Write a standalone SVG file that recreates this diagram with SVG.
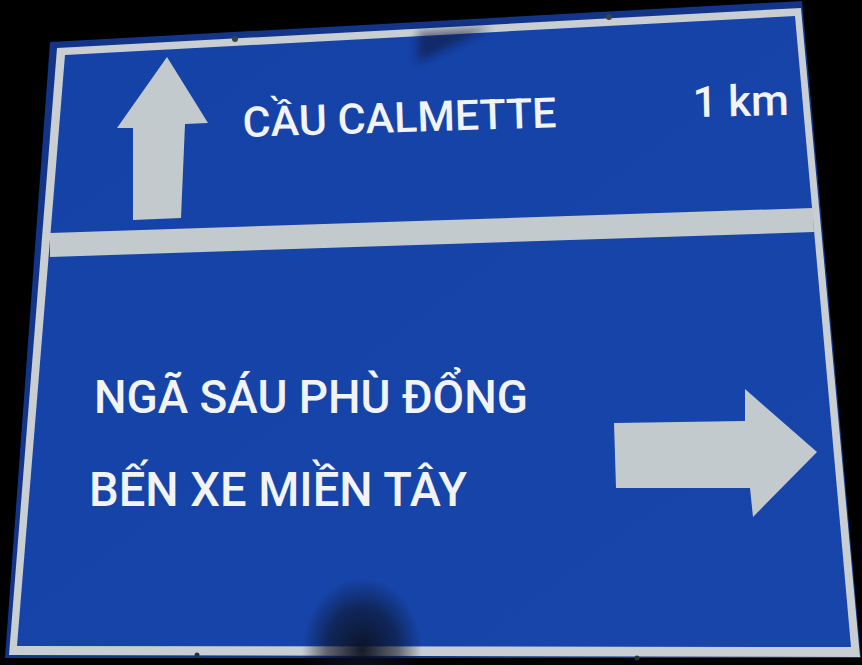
<svg xmlns="http://www.w3.org/2000/svg" width="862" height="665" viewBox="0 0 862 665">
  <defs>
    <style>
      .sign-text { font-family: Roboto, "DejaVu Sans", sans-serif; font-weight: 500; fill: #f2f3f5; }
      .grey { fill: #c3cacd; }
    </style>
    <linearGradient id="blueFill" x1="0" y1="0" x2="1" y2="1">
      <stop offset="0" stop-color="#1542a6"/>
      <stop offset="1" stop-color="#1745aa"/>
    </linearGradient>
    <radialGradient id="smudge" cx="0.5" cy="0.5" r="0.5">
      <stop offset="0" stop-color="#0b1020" stop-opacity="0.95"/>
      <stop offset="0.6" stop-color="#0b1020" stop-opacity="0.55"/>
      <stop offset="1" stop-color="#0b1020" stop-opacity="0"/>
    </radialGradient>
    <filter id="blur" x="-20%" y="-20%" width="140%" height="140%">
      <feGaussianBlur stdDeviation="4"/>
    </filter>
  </defs>

  <rect width="862" height="665" fill="#000000"/>

  <g id="sign-board">
    <polygon points="50,42 802,1 861,658 5,658" fill="#12358a"/>
    <polygon points="57,48 801,8 860,657 9,655" fill="#c8ced1"/>
    <polygon points="65,55 795,16 851,647 17,646" fill="url(#blueFill)"/>
    <polygon points="418,32 492,27 418,62" fill="#0a1638" opacity="0.55" filter="url(#blur)"/>
    <ellipse cx="362" cy="650" rx="60" ry="72" fill="url(#smudge)"/>
    <circle cx="235" cy="39" r="3" fill="#3a4250"/>
    <circle cx="609" cy="17" r="3" fill="#3a4250"/>
    <circle cx="197" cy="655" r="2.5" fill="#2a303a"/>
    <circle cx="637" cy="658" r="2.5" fill="#2a303a"/>
  </g>

  <g id="divider">
    <polygon class="grey" points="50,233 813,208 814,232 50,257"/>
  </g>

  <g id="arrow-up">
    <polygon class="grey" points="167,57 208,123 185,124 181,218 133,220 133,128 117,128"/>
  </g>

  <g id="arrow-right">
    <polygon class="grey" points="614,423 745,421 745,389 817,452 753,517 750,488 616,488"/>
  </g>

  <g id="label-calmette">
    <text class="sign-text" x="243" y="137" font-size="42" textLength="314" lengthAdjust="spacingAndGlyphs" transform="rotate(-1.8 243 137)">CẦU CALMETTE</text>
  </g>

  <g id="label-distance">
    <text class="sign-text" x="693" y="117" font-size="43" textLength="96" lengthAdjust="spacingAndGlyphs" transform="rotate(-1.2 693 117)">1 km</text>
  </g>

  <g id="label-nga-sau">
    <text class="sign-text" x="94" y="413" font-size="47" textLength="434" lengthAdjust="spacingAndGlyphs">NGÃ SÁU PHÙ ĐỔNG</text>
  </g>

  <g id="label-ben-xe">
    <text class="sign-text" x="89" y="506" font-size="48" textLength="378" lengthAdjust="spacingAndGlyphs">BẾN XE MIỀN TÂY</text>
  </g>
</svg>
